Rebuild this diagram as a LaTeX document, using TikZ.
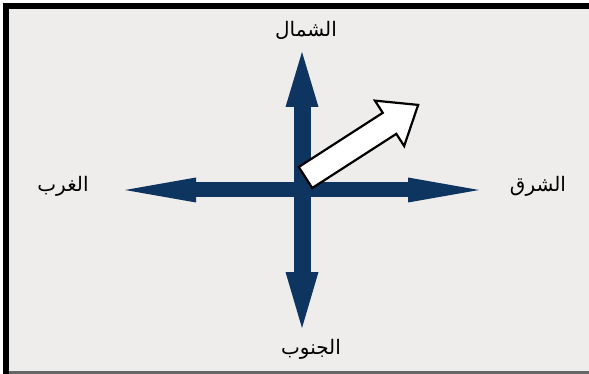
\documentclass[tikz,border=0pt]{standalone}
\usepackage{fontspec}
\usetikzlibrary{arrows.meta,positioning,calc}
\newfontfamily\arabicfont[Script=Arabic]{DejaVu Sans}
\TeXXeTstate=1
\definecolor{navy}{RGB}{14,52,96}
\definecolor{panel}{RGB}{238,237,235}
\tikzset{
  >=Triangle,
}

\begin{document}
\begin{tikzpicture}[
  x=1pt,y=-1pt,
  vaxis/.style={draw=navy, line width=17pt,
    {Triangle[length=55pt,width=33pt,line width=0pt]}-{Triangle[length=56pt,width=33pt,line width=0pt]}},
  haxis/.style={draw=navy, line width=15pt,
    {Triangle[length=71pt,width=25pt,line width=0pt]}-{Triangle[length=71pt,width=25pt,line width=0pt]}},
  dirname/.style={font=\arabicfont\fontsize{20}{22}\selectfont, inner sep=0pt}
]
\useasboundingbox (0,0) rectangle (589,374);

% frame
\fill[panel] (3,3) rectangle (589,374);
\fill[black] (3,3) rectangle (589,9);
\fill[black] (3,3) rectangle (9,374);
\fill[black!60] (9,371) rectangle (589,374);

% compass ends
\coordinate (C) at (302,190);
\coordinate (N) at (302,52);
\coordinate (S) at (302,328);
\coordinate (W) at (125,190);
\coordinate (E) at (479,190);

\node[dirname] (north) at (306,30) {\beginR الشمال\endR};
\node[dirname] (south) at (311,349) {\beginR الجنوب\endR};
\node[dirname] (west) at (63,186) {\beginR الغرب\endR};
\node[dirname] (east) at (538,186) {\beginR الشرق\endR};

\draw[vaxis] (N) -- (S);
\draw[haxis] (W) -- (E);

% white arrow
\begin{scope}[shift={(305.5,177.5)}, rotate=32.8]
\filldraw[fill=white, draw=black, line width=2.2pt, line join=miter]
  (0,-12.5) -- (100,-12.5) -- (100,-27) -- (134,0) -- (100,27)
  -- (100,12.5) -- (0,12.5) -- cycle;
\end{scope}

\end{tikzpicture}
\end{document}
